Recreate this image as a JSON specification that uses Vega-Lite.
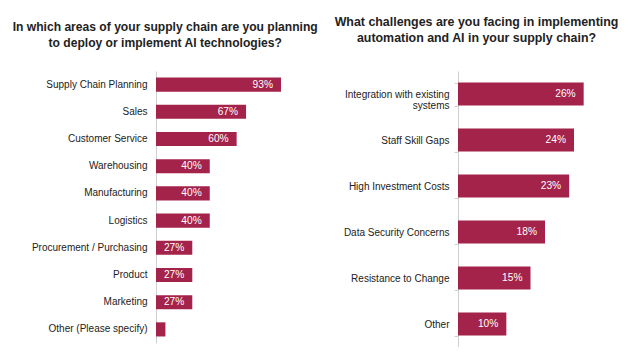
{
  "$schema": "https://vega.github.io/schema/vega-lite/v6.json",
  "background": "white",
  "padding": {"left": 12, "top": 15, "right": 5, "bottom": 0},
  "bounds": "flush",
  "spacing": 167,
  "config": {
    "view": {"stroke": null},
    "font": "Liberation Sans",
    "title": {"fontSize": 12.4, "fontWeight": "bold", "color": "#222222", "lineHeight": 16.5, "font": "Liberation Sans", "frame": "group", "anchor": "middle"},
    "axis": {"labelFont": "Liberation Sans", "labelFontSize": 10, "labelColor": "#222222", "domainColor": "#cfcfcf", "tickColor": "#cfcfcf", "title": null, "labelPadding": 9}
  },
  "hconcat": [
    {
      "width": 134.4,
      "height": 272,
      "title": {"text": ["In which areas of your supply chain are you planning", "to deploy or implement AI technologies?"], "offset": 21.5, "dx": -58, "fontSize": 12.1},
      "data": {"values": [
        {"area": "Supply Chain Planning", "pct": 0.93},
        {"area": "Sales", "pct": 0.67},
        {"area": "Customer Service", "pct": 0.60},
        {"area": "Warehousing", "pct": 0.40},
        {"area": "Manufacturing", "pct": 0.40},
        {"area": "Logistics", "pct": 0.40},
        {"area": "Procurement / Purchasing", "pct": 0.27},
        {"area": "Product", "pct": 0.27},
        {"area": "Marketing", "pct": 0.27},
        {"area": "Other (Please specify)", "pct": 0.07}
      ]},
      "layer": [
        {
          "mark": {"type": "bar", "color": "#A4234A"},
          "encoding": {
            "y": {"field": "area", "type": "nominal", "sort": null, "scale": {"paddingInner": 0.48, "paddingOuter": 0.24}, "axis": {"ticks": false}},
            "x": {"field": "pct", "type": "quantitative", "scale": {"domain": [0, 1]}, "axis": null}
          }
        },
        {
          "transform": [{"filter": "datum.pct >= 0.1"}],
          "mark": {"type": "text", "align": "right", "dx": -8, "color": "white", "fontSize": 10.2, "font": "Liberation Sans"},
          "encoding": {
            "y": {"field": "area", "type": "nominal", "sort": null},
            "x": {"field": "pct", "type": "quantitative"},
            "text": {"field": "pct", "type": "quantitative", "format": ".0%"}
          }
        }
      ]
    },
    {
      "width": 145,
      "height": 276,
      "title": {"text": ["What challenges are you facing in implementing", "automation and AI in your supply chain?"], "offset": 21.5, "dx": -54},
      "data": {"values": [
        {"challenge": "Integration with existing systems", "pct": 0.26},
        {"challenge": "Staff Skill Gaps", "pct": 0.24},
        {"challenge": "High Investment Costs", "pct": 0.23},
        {"challenge": "Data Security Concerns", "pct": 0.18},
        {"challenge": "Resistance to Change", "pct": 0.15},
        {"challenge": "Other", "pct": 0.10}
      ]},
      "layer": [
        {
          "mark": {"type": "bar", "color": "#A4234A"},
          "encoding": {
            "y": {"field": "challenge", "type": "nominal", "sort": null, "scale": {"paddingInner": 0.5, "paddingOuter": 0.25},
              "axis": {"ticks": true, "tickBand": "extent", "tickSize": 4, "labelPadding": 5, "labelLineHeight": 11.5,
                "labelExpr": "datum.label == 'Integration with existing systems' ? ['Integration with existing', 'systems'] : datum.label",
                "encode": {"labels": {"update": {
                  "align": {"signal": "datum.value == 'Integration with existing systems' ? 'center' : 'right'"},
                  "dx": {"signal": "datum.value == 'Integration with existing systems' ? -42 : 0"}
                }}}}},
            "x": {"field": "pct", "type": "quantitative", "scale": {"domain": [0, 0.3]}, "axis": null}
          }
        },
        {
          "mark": {"type": "text", "align": "right", "dx": -8, "color": "white", "fontSize": 10.2, "font": "Liberation Sans"},
          "encoding": {
            "y": {"field": "challenge", "type": "nominal", "sort": null},
            "x": {"field": "pct", "type": "quantitative"},
            "text": {"field": "pct", "type": "quantitative", "format": ".0%"}
          }
        }
      ]
    }
  ]
}
